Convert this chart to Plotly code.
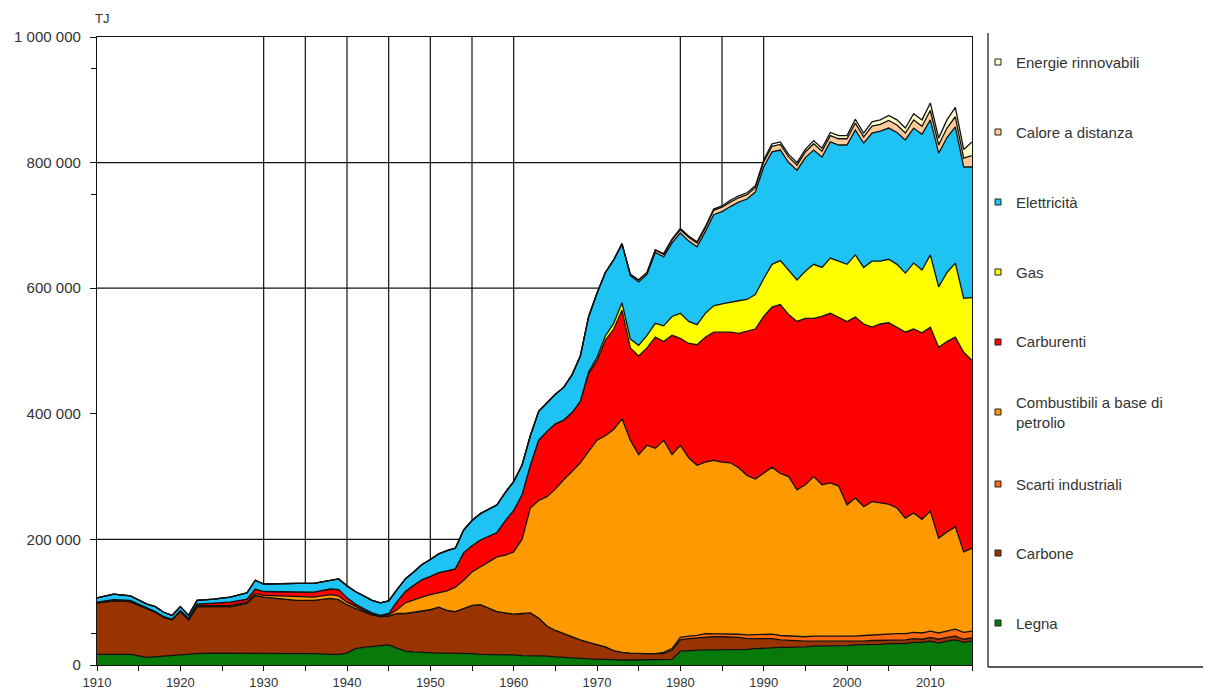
import plotly.graph_objects as go

# ---------------- data (thousand TJ) ----------------
years = [1910, 1912, 1914, 1916, 1917, 1918, 1919, 1920, 1921, 1922, 1924, 1926, 1928,
         1929, 1930, 1932, 1934, 1936, 1938, 1939, 1940, 1941, 1942, 1943, 1944, 1945,
         1946, 1947, 1948, 1949, 1950, 1951, 1952, 1953, 1954, 1955, 1956, 1957, 1958,
         1959, 1960, 1961, 1962, 1963, 1964, 1965, 1966, 1967, 1968, 1969, 1970, 1971,
         1972, 1973, 1974, 1975, 1976, 1977, 1978, 1979, 1980, 1981, 1982, 1983, 1984,
         1985, 1986, 1987, 1988, 1989, 1990, 1991, 1992, 1993, 1994, 1995, 1996, 1997,
         1998, 1999, 2000, 2001, 2002, 2003, 2004, 2005, 2006, 2007, 2008, 2009, 2010,
         2011, 2012, 2013, 2014, 2015]

legna = [17, 17, 17, 12, 13, 15, 16, 17, 17, 18, 19, 19, 19,
         19, 19, 19, 18, 18, 17, 17, 19, 26, 28, 29, 31, 32,
         27, 22, 21, 20, 19, 19, 19, 19, 18, 18, 17, 17, 16,
         16, 16, 15, 15, 14, 14, 13, 12, 12, 11, 10, 9, 9,
         8, 8, 8, 8, 8, 8, 8, 9, 22, 23, 23, 24, 24,
         24, 25, 25, 25, 26, 27, 28, 28, 28, 28, 29, 30, 30,
         30, 31, 31, 32, 32, 33, 33, 34, 34, 34, 36, 36, 38,
         35, 38, 40, 36, 38]

carbone = [82, 85, 84, 78, 71, 61, 56, 68, 55, 75, 74, 74, 79,
           92, 89, 87, 85, 85, 89, 87, 77, 64, 57, 51, 46, 46,
           55, 60, 63, 66, 69, 73, 68, 66, 72, 77, 79, 73, 69,
           67, 65, 67, 68, 61, 48, 42, 38, 32, 29, 26, 23, 20,
           15, 12, 11, 10, 10, 10, 10, 14, 18, 19, 20, 21, 21,
           21, 20, 19, 17, 16, 15, 14, 12, 11, 10, 9, 8, 8,
           7, 7, 6, 6, 6, 6, 6, 6, 6, 6, 6, 5, 6,
           6, 6, 6, 5, 5]

scarti = [0, 0, 0, 0, 0, 0, 0, 0, 0, 0, 0, 0, 0,
          0, 0, 0, 0, 0, 0, 0, 0, 0, 0, 0, 0, 0,
          0, 0, 0, 0, 0, 0, 0, 0, 0, 0, 0, 0, 0,
          0, 0, 0, 0, 0, 0, 0, 0, 0, 0, 0, 0, 0,
          0, 0, 0, 0, 0, 0, 2, 3, 4, 4, 4, 5, 5,
          5, 5, 5, 6, 6, 6, 7, 7, 7, 7, 7, 8, 8,
          8, 8, 8, 8, 9, 9, 9, 9, 10, 10, 10, 10, 10,
          10, 10, 11, 11, 11]

combustibili = [0, 0, 0, 0, 0, 0, 0, 0, 0, 1, 1, 2, 2,
                3, 3, 4, 5, 5, 6, 6, 4, 3, 2, 1, 1, 2,
                6, 17, 20, 22, 24, 23, 31, 39, 45, 53, 60, 74, 87,
                92, 99, 118, 167, 187, 206, 225, 245, 264, 282, 304, 326, 336,
                352, 372, 339, 317, 332, 327, 338, 309, 306, 284, 271, 273, 276,
                273, 272, 265, 254, 248, 257, 266, 258, 254, 234, 242, 254, 241,
                245, 239, 210, 220, 205, 212, 210, 207, 200, 184, 190, 181, 191,
                151, 158, 163, 128, 132]

carburenti = [1, 2, 2, 1, 1, 1, 1, 2, 2, 3, 4, 5, 5,
              7, 6, 7, 8, 8, 9, 10, 7, 4, 3, 2, 1, 2,
              13, 18, 23, 28, 29, 32, 32, 29, 44, 42, 43, 41, 39,
              55, 66, 71, 68, 96, 104, 104, 95, 94, 98, 124, 127, 152,
              160, 173, 147, 157, 155, 177, 157, 190, 170, 182, 192, 199, 204,
              207, 208, 214, 230, 239, 250, 255, 269, 258, 268, 265, 252, 268,
              270, 268, 292, 288, 291, 278, 285, 289, 288, 296, 293, 297, 293,
              304, 303, 302, 318, 299]

gas = [0, 0, 0, 0, 0, 0, 0, 0, 0, 0, 0, 0, 0,
       0, 0, 0, 0, 0, 0, 0, 0, 0, 0, 0, 0, 0,
       0, 0, 0, 0, 0, 0, 0, 0, 0, 0, 0, 0, 0,
       0, 0, 0, 0, 0, 0, 0, 0, 0, 0, 3, 5, 7,
       9, 12, 14, 17, 20, 22, 25, 30, 40, 35, 32, 38, 42,
       45, 48, 52, 50, 55, 60, 68, 70, 70, 66, 75, 86, 78,
       88, 90, 91, 99, 90, 105, 100, 101, 100, 94, 105, 100, 115,
       96, 110, 118, 86, 100]

elettricita = [7, 9, 7, 6, 8, 7, 6, 6, 5, 6, 7, 8, 10,
               14, 12, 13, 14, 14, 14, 17, 19, 20, 20, 20, 20, 20,
               19, 20, 21, 24, 27, 30, 32, 33, 36, 40, 42, 43, 44,
               45, 46, 47, 47, 46, 46, 47, 52, 60, 72, 88, 102, 101,
               101, 93, 101, 101, 97, 113, 110, 117, 128, 128, 124, 130, 145,
               147, 152, 157, 160, 163, 178, 179, 176, 172, 175, 181, 182, 176,
               185, 185, 190, 199, 198, 204, 207, 209, 210, 212, 215, 216, 215,
               213, 215, 217, 209, 208]

calore = [0, 0, 0, 0, 0, 0, 0, 0, 0, 0, 0, 0, 0,
          0, 0, 0, 0, 0, 0, 0, 0, 0, 0, 0, 0, 0,
          0, 0, 0, 0, 0, 0, 0, 0, 0, 0, 0, 0, 0,
          0, 0, 0, 0, 0, 0, 0, 0, 0, 0, 0, 0, 0,
          0, 1, 2, 3, 3, 4, 4, 5, 5, 6, 6, 6, 7,
          7, 7, 7, 7, 7, 8, 9, 9, 9, 8, 9, 10, 9,
          10, 10, 10, 11, 10, 11, 11, 12, 12, 11, 13, 13, 15,
          13, 15, 16, 14, 18]

rinnovabili = [0, 0, 0, 0, 0, 0, 0, 0, 0, 0, 0, 0, 0,
               0, 0, 0, 0, 0, 0, 0, 0, 0, 0, 0, 0, 0,
               0, 0, 0, 0, 0, 0, 0, 0, 0, 0, 0, 0, 0,
               0, 0, 0, 0, 0, 0, 0, 0, 0, 0, 0, 0, 0,
               0, 0, 0, 0, 0, 0, 1, 1, 2, 2, 2, 2, 2,
               2, 3, 3, 3, 3, 3, 4, 4, 4, 4, 4, 5, 5,
               5, 5, 5, 6, 6, 7, 7, 8, 8, 8, 10, 10, 12,
               11, 13, 15, 14, 22]

series_names = ["Legna", "Carbone", "Scarti industriali",
                "Combustibili a base di petrolio", "Carburenti", "Gas",
                "Elettricità", "Calore a distanza", "Energie rinnovabili"]
series_values = [legna, carbone, scarti, combustibili, carburenti, gas,
                 elettricita, calore, rinnovabili]
series_colors = ["#087A0C", "#993300", "#FF6A10", "#FF9900", "#FF0000",
                 "#FFFF00", "#1EC3F3", "#FFCC99", "#FFFFCC"]
legend_labels = ["Legna", "Carbone", "Scarti industriali",
                 "Combustibili a base di<br>petrolio", "Carburenti", "Gas",
                 "Elettricità", "Calore a distanza", "Energie rinnovabili"]

y_tick_values = [0, 200000, 400000, 600000, 800000, 1000000]
y_tick_labels = ["0", "200 000", "400 000", "600 000", "800 000", "1 000 000"]
x_tick_values = list(range(1910, 2016, 5))
x_tick_labels = [str(v) if v % 10 == 0 else "" for v in x_tick_values]
h_grid = [200000, 600000, 800000]
v_grid = [1930, 1935, 1940, 1945, 1950, 1955, 1960, 1980, 1985, 1990]

for s in series_values:
    assert len(s) == len(years)

# ---------------- figure ----------------
# the page body adds an 8 px offset, so the figure is 8 px smaller
OFF = 8
W, H = 1211 - OFF, 693 - OFF
L, T = 97 - OFF, 37 - OFF
PW, PH = 875, 628
R, B = W - L - PW, H - T - PH


def px(x):  # reference pixel -> paper
    return (x - OFF - L) / PW


def py(y):
    return 1 - (y - OFF - T) / PH


FONT = "Liberation Sans"
TXT = "#333333"

fig = go.Figure()
for name, vals, col in zip(series_names, series_values, series_colors):
    fig.add_trace(go.Scatter(
        x=years, y=[v * 1000 for v in vals], name=name,
        mode="lines", stackgroup="one",
        line=dict(color="#111111", width=1.3),
        fillcolor=col, showlegend=False,
        hovertemplate="%{x}: %{y} TJ<extra>" + name + "</extra>"))

shapes = []
for g in h_grid:
    shapes.append(dict(type="line", xref="x", yref="y", x0=1910, x1=2015,
                       y0=g, y1=g, line=dict(color="#111111", width=1.2),
                       layer="below"))
for g in v_grid:
    shapes.append(dict(type="line", xref="x", yref="y", x0=g, x1=g,
                       y0=0, y1=1000000, line=dict(color="#111111", width=1.2),
                       layer="below"))

# legend frame
shapes.append(dict(type="line", xref="paper", yref="paper",
                   x0=px(988), x1=px(988), y0=py(33), y1=py(667),
                   line=dict(color="#222222", width=1.3)))
shapes.append(dict(type="line", xref="paper", yref="paper",
                   x0=px(988), x1=px(1212), y0=py(667), y1=py(667),
                   line=dict(color="#222222", width=1.3)))

annotations = []
legend_y = [623, 553, 484, 412, 342, 272, 202, 132, 62]
for lab, col, ly in zip(legend_labels, series_colors, legend_y):
    shapes.append(dict(type="rect", xref="paper", yref="paper",
                       x0=px(995), x1=px(1001), y0=py(ly + 3), y1=py(ly - 3),
                       fillcolor=col, line=dict(color="#222222", width=1)))
    annotations.append(dict(xref="paper", yref="paper", x=px(1014), y=py(ly),
                            text=lab, showarrow=False, xanchor="left",
                            yanchor="middle", align="left",
                            font=dict(family=FONT, size=15, color=TXT)))

annotations.append(dict(xref="paper", yref="paper", x=px(93), y=py(19),
                        text="TJ", showarrow=False, xanchor="left",
                        yanchor="middle",
                        font=dict(family=FONT, size=13, color=TXT)))

fig.update_layout(
    width=W, height=H,
    margin=dict(l=L, r=R, t=T, b=B, autoexpand=False),
    paper_bgcolor="white", plot_bgcolor="white",
    shapes=shapes, annotations=annotations,
    showlegend=False,
    font=dict(family=FONT, size=15, color=TXT),
)
fig.update_xaxes(range=[1910, 2015], tickvals=x_tick_values,
                 ticktext=x_tick_labels, showgrid=False, zeroline=False,
                 showline=True, linecolor="#111111", linewidth=1.3,
                 mirror=True, ticks="outside", ticklen=5, automargin=False,
                 tickcolor="#111111", tickfont=dict(size=13),
                 ticklabelstandoff=0)
fig.update_yaxes(range=[0, 1000000], tickvals=y_tick_values,
                 ticktext=y_tick_labels, showgrid=False, zeroline=False,
                 showline=True, linecolor="#111111", linewidth=1.3,
                 mirror=True, ticks="outside", ticklen=6, automargin=False,
                 tickcolor="#111111", tickfont=dict(size=15),
                 ticklabelstandoff=6,
                 minor=dict(tickvals=[50000, 750000, 950000], ticks="outside",
                            ticklen=5, tickcolor="#111111"))

fig.write_html("out.html")
